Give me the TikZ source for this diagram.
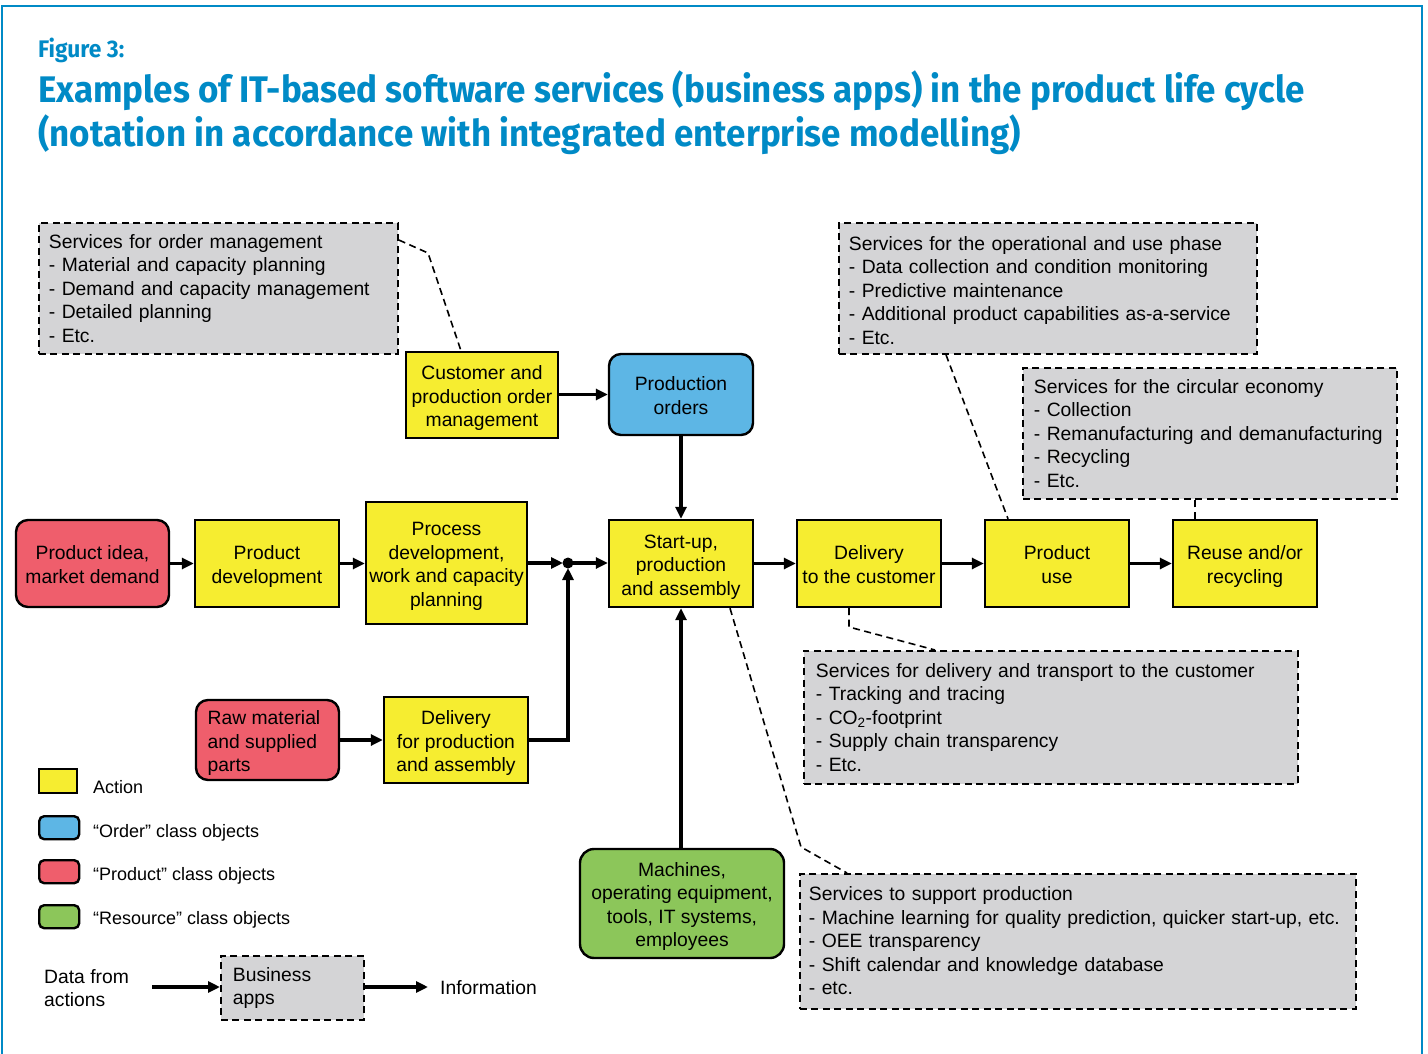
\documentclass[tikz,border=0pt]{standalone}
\usepackage{fontspec}
\usepackage{graphicx}
\setmainfont{Liberation Sans}
\newfontfamily\titlefont{Fira Sans}
\usetikzlibrary{arrows.meta}
\definecolor{tblue}{RGB}{0,138,198}
\definecolor{yel}{RGB}{246,237,48}
\definecolor{oblue}{RGB}{93,182,229}
\definecolor{pred}{RGB}{239,94,108}
\definecolor{rgreen}{RGB}{140,198,90}
\definecolor{sgray}{RGB}{212,212,214}
\newcommand\bodyf{\fontsize{19.3}{23.5}\selectfont}
\newcommand\ct[1]{\raisebox{-3.5pt}[\height][\depth]{\begin{tabular}{@{}c@{}}#1\end{tabular}}}
\newcommand\lt[1]{\raisebox{-3.5pt}[\height][\depth]{\begin{tabular}{@{}l@{}}#1\end{tabular}}}
\newcommand\ltd[2]{\raisebox{#1}[\height][\depth]{\begin{tabular}{@{}l@{}}#2\end{tabular}}}
\tikzset{
  boxbase/.style={draw, line width=2.4pt, align=center, font=\bodyf, inner sep=0pt},
  act/.style={boxbase, fill=yel},
  ordobj/.style={boxbase, fill=oblue, rounded corners=12pt},
  prodobj/.style={boxbase, fill=pred, rounded corners=12pt},
  resobj/.style={boxbase, fill=rgreen, rounded corners=14pt},
  svc/.style={draw, line width=1.8pt, dash pattern=on 7pt off 4.5pt, fill=sgray, align=left, font=\bodyf, inner xsep=10pt, inner ysep=0pt, anchor=north west},
  conn/.style={line width=1.6pt, dash pattern=on 7pt off 4.5pt},
  arr/.style={line width=3.2pt, -{Triangle[length=12pt,width=11pt]}},
  lbl/.style={font=\bodyf, inner sep=0pt, align=left},
  leg/.style={font=\fontsize{18}{21}\selectfont, inner sep=0pt, anchor=base west},
  legbox/.style={draw, line width=2.4pt, inner sep=0pt, anchor=north west},
}
\begin{document}
\begin{tikzpicture}[x=1pt,y=-1pt]
\useasboundingbox (0,0) rectangle (1428,1054);
\fill[white] (0,0) rectangle (1428,1054);
\draw[tblue, line width=1.6pt] (2,1070) -- (2,6) -- (1422,6) -- (1422,1070);

% title
\node[anchor=base west, inner sep=0pt, text=tblue, font=\titlefont\bfseries\fontsize{24}{26}\selectfont] (fig) at (38,58) {\scalebox{0.95}[1]{Figure 3:}};
\node[anchor=base west, inner sep=0pt, text=tblue, font=\titlefont\bfseries\fontsize{37}{44}\selectfont] (t1) at (38,103) {\scalebox{0.945}[1]{Examples of IT-based software services (business apps) in the product life cycle}};
\node[anchor=base west, inner sep=0pt, text=tblue, font=\titlefont\bfseries\fontsize{37}{44}\selectfont] (t2) at (38,147) {\scalebox{0.945}[1]{(notation in accordance with integrated enterprise modelling)}};

% service boxes
\node[svc, text width=339pt, minimum height=131pt] (som) at (38,222) {Services for order management\\- Material and capacity planning\\- Demand and capacity management\\- Detailed planning\\- Etc.};
\node[svc, text width=398pt, minimum height=131pt] (sop) at (838,222) {\ltd{-4pt}{Services for the operational and use phase\\- Data collection and condition monitoring\\- Predictive maintenance\\- Additional product capabilities as-a-service\\- Etc.}};
\node[svc, inner xsep=11pt, text width=352pt, minimum height=131pt] (sce) at (1022,367) {\ltd{-2pt}{Services for the circular economy\\- Collection\\- Remanufacturing and demanufacturing\\- Recycling\\- Etc.}};
\node[svc, inner xsep=12pt, text width=470pt, minimum height=133pt] (sdel) at (803,650) {Services for delivery and transport to the customer\\- Tracking and tracing\\- CO\textsubscript{2}-footprint\\- Supply chain transparency\\- Etc.};
\node[svc, inner xsep=9pt, text width=538pt, minimum height=135pt] (ssup) at (799,873) {\ltd{-1.5pt}{Services to support production\\- Machine learning for quality prediction, quicker start-up, etc.\\- OEE transparency\\- Shift calendar and knowledge database\\- etc.}};

% main nodes
\node[prodobj, minimum width=153pt, minimum height=87pt] (idea) at (92.5,563.5) {\ct{Product idea,\\market demand}};
\node[act, minimum width=144pt, minimum height=87pt] (pd) at (267,563.5) {\ct{Product\\development}};
\node[act, minimum width=161pt, minimum height=122pt] (proc) at (446.5,563) {\ct{Process\\development,\\work and capacity\\planning}};
\node[act, minimum width=144pt, minimum height=87pt] (start) at (681,563.5) {\ct{Start-up,\\production\\and assembly}};
\node[act, minimum width=144pt, minimum height=87pt] (deliv) at (869,563.5) {\ct{Delivery\\to the customer}};
\node[act, minimum width=144pt, minimum height=87pt] (use) at (1057,563.5) {\ct{Product\\use}};
\node[act, minimum width=144pt, minimum height=87pt] (reuse) at (1245,563.5) {\ct{Reuse and/or\\recycling}};
\node[act, minimum width=152pt, minimum height=86pt] (cust) at (482,395) {\ct{Customer and\\production order\\management}};
\node[ordobj, minimum width=144pt, minimum height=81pt] (po) at (681,394.5) {\ct{Production\\orders}};
\node[prodobj, minimum width=143pt, minimum height=80pt] (raw) at (267.5,740) {\hspace*{1pt}\lt{Raw material\\and supplied\\parts}\hspace*{8pt}};
\node[act, minimum width=144pt, minimum height=86pt] (dfp) at (456,740) {\ct{Delivery\\for production\\and assembly}};
\node[resobj, minimum width=204pt, minimum height=109pt] (mach) at (682,903.5) {\ct{Machines,\\operating equipment,\\tools, IT systems,\\employees}};

% junction
\coordinate (j) at (568,563);
\fill (j) circle (5.5pt);

% solid arrows
\draw[arr] (idea.east) -- (pd.west);
\draw[arr] (pd.east) -- (proc.west |- pd.east);
\draw[arr, shorten >=5pt] (proc.east |- j) -- (j);
\draw[arr] (j) -- (start.west |- j);
\draw[arr] (raw.east) -- (dfp.west |- raw.east);
\draw[arr, shorten >=5pt] (dfp.east) -| (j);
\draw[arr] (cust.east |- po.west) -- (po.west);
\draw[arr] (po.south) -- (start.north);
\draw[arr] (start.south |- mach.north) -- (start.south);
\draw[arr] (start.east) -- (deliv.west);
\draw[arr] (deliv.east) -- (use.west);
\draw[arr] (use.east) -- (reuse.west);

% dashed connectors
\coordinate (c1) at (428,253);
\draw[conn] ([yshift=-18pt]som.north east) -- (c1) -- ([xshift=-21pt]cust.north);
\draw[conn] ([xshift=108pt]sop.south west) -- ([xshift=-49pt]use.north);
\draw[conn] ([xshift=-50pt]reuse.north) -- ([xshift=-50pt]reuse.north |- sce.south);
\coordinate (c2) at (849,627);
\draw[conn] ([xshift=-20pt]deliv.south) -- (c2) -- ([xshift=132pt]sdel.north west);
\coordinate (c3) at (801,847);
\draw[conn] ([xshift=49pt]start.south) -- (c3) -- ([xshift=48pt]ssup.north west);

% legend
\node[legbox, fill=yel, minimum width=38pt, minimum height=24pt] (lg1) at (38,768) {};
\node[legbox, fill=oblue, rounded corners=5pt, minimum width=40pt, minimum height=23pt] (lg2) at (38,815) {};
\node[legbox, fill=pred, rounded corners=5pt, minimum width=40pt, minimum height=23pt] (lg3) at (38,859) {};
\node[legbox, fill=rgreen, rounded corners=5pt, minimum width=40pt, minimum height=23pt] (lg4) at (38,904) {};
\node[leg] (lt1) at (93,793) {Action};
\node[leg] (lt2) at (93,837) {“Order” class objects};
\node[leg] (lt3) at (93,880) {“Product” class objects};
\node[leg] (lt4) at (93,924) {“Resource” class objects};

\node[lbl, anchor=west] (dfa) at (44,988) {Data from\\actions};
\node[svc, inner xsep=12pt, text width=119pt, minimum height=64pt] (bapp) at (220,955) {Business\\apps};
\node[lbl, anchor=west] (info) at (440,988) {Information};
\coordinate (a0) at (152,987);
\draw[arr] (a0) -- (bapp.west |- a0);
\draw[arr] (bapp.east |- a0) -- ([xshift=-12pt]info.west |- a0);
\end{tikzpicture}
\end{document}
